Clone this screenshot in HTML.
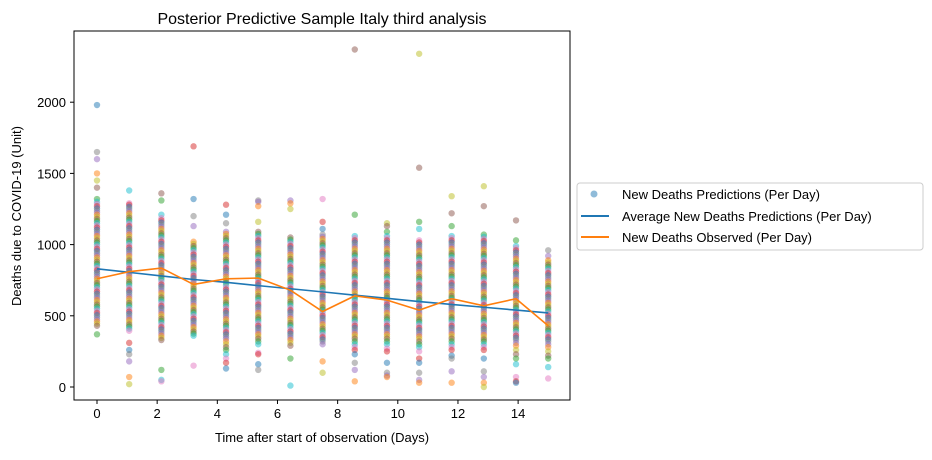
<!DOCTYPE html>
<html><head><meta charset="utf-8"><style>
body{margin:0;background:#fff;font-family:"Liberation Sans",sans-serif;}
svg text{font-family:"Liberation Sans",sans-serif;fill:#000}
</style></head><body>
<svg id="c" width="932" height="455">
<text x="322" y="24" font-size="16" text-anchor="middle">Posterior Predictive Sample Italy third analysis</text>
<g id="marks"></g>
<rect x="74" y="31" width="496" height="369" fill="none" stroke="#000" stroke-width="1"/>
<g id="axes"></g>
<text x="322" y="442" font-size="13" text-anchor="middle">Time after start of observation (Days)</text>
<text transform="translate(21,216) rotate(-90)" font-size="13" text-anchor="middle">Deaths due to COVID-19 (Unit)</text>
<g>
<rect x="577" y="183" width="346" height="67" rx="3" fill="#fff" stroke="#ccc"/>
<circle cx="594" cy="194" r="3.5" fill="#1f77b4" fill-opacity="0.5"/>
<text x="622" y="199" font-size="13">New Deaths Predictions (Per Day)</text>
<line x1="581" x2="609" y1="216" y2="216" stroke="#1f77b4" stroke-width="2"/>
<text x="622" y="221" font-size="13">Average New Deaths Predictions (Per Day)</text>
<line x1="581" x2="609" y1="237" y2="237" stroke="#ff7f0e" stroke-width="2"/>
<text x="622" y="242" font-size="13">New Deaths Observed (Per Day)</text>
</g>
</svg>
<script>
const days=[0,1.07,2.14,3.21,4.29,5.36,6.43,7.5,8.57,9.64,10.71,11.79,12.86,13.93,15];
const avgPred=[830,805,780,755,735,712,690,668,645,623,600,580,560,540,520];
const observed=[760,810,835,720,760,765,680,530,640,610,540,620,570,620,430];
const xTicks=[0,2,4,6,8,10,12,14];
const yTicks=[0,500,1000,1500,2000];
const samples=[
[1980,1650,1600,1500,1450,1400,1320,1300,1285,1270,1255,1240,1225,1210,1195,1180,1165,1150,1135,1120,1105,1090,1075,1060,1045,1030,1015,1000,985,970,955,940,925,910,895,880,865,850,835,820,805,790,775,760,745,730,715,700,685,670,655,640,625,610,595,580,565,550,535,520,505,490,475,460,445,430,370],
[1380,1290,1280,1265,1250,1235,1220,1205,1190,1175,1160,1145,1130,1115,1100,1085,1070,1055,1040,1025,1010,995,980,965,950,935,920,905,890,875,860,845,830,815,800,785,770,755,740,725,710,695,680,665,650,635,620,605,590,575,560,545,530,515,500,485,470,455,440,425,410,395,310,260,230,180,70,20],
[1360,1310,1210,1185,1170,1155,1140,1125,1110,1095,1080,1065,1050,1035,1020,1005,990,975,960,945,930,915,900,885,870,855,840,825,810,795,780,765,750,735,720,705,690,675,660,645,630,615,600,585,570,555,540,525,510,495,480,465,450,435,420,405,390,375,360,345,330,120,50,40],
[1690,1320,1200,1130,1020,1005,990,975,960,945,930,915,900,885,870,855,840,825,810,795,780,765,750,735,720,705,690,675,660,645,630,615,600,585,570,555,540,525,510,495,480,465,450,435,420,405,390,375,360,150],
[1280,1210,1150,1090,1075,1060,1045,1030,1015,1000,985,970,955,940,925,910,895,880,865,850,835,820,805,790,775,760,745,730,715,700,685,670,655,640,625,610,595,580,565,550,535,520,505,490,475,460,445,430,415,400,385,370,355,340,320,300,280,260,230,200,170,130],
[1310,1300,1270,1160,1090,1075,1060,1045,1030,1015,1000,985,970,955,940,925,910,895,880,865,850,835,820,805,790,775,760,745,730,715,700,685,670,655,640,625,610,595,580,565,550,535,520,505,490,475,460,445,430,415,400,385,370,355,340,320,300,240,230,160,120],
[1310,1290,1250,1050,1035,1020,1005,990,975,960,945,930,915,900,885,870,855,840,825,810,795,780,765,750,735,720,705,690,675,660,645,630,615,600,585,570,555,540,525,510,495,480,465,450,435,420,405,390,375,360,345,330,310,290,200,10],
[1320,1160,1110,1070,1055,1040,1025,1010,995,980,965,950,935,920,905,890,875,860,845,830,815,800,785,770,755,740,725,710,695,680,665,650,635,620,605,590,575,560,545,530,515,500,485,470,455,440,425,410,395,380,365,350,335,320,300,180,100],
[2370,1210,1060,1045,1030,1015,1000,985,970,955,940,925,910,895,880,865,850,835,820,805,790,775,760,745,730,715,700,685,670,655,640,625,610,595,580,565,550,535,520,505,490,475,460,445,430,415,400,385,370,355,340,320,300,280,260,230,170,120,40],
[1150,1130,1090,1060,1045,1030,1015,1000,985,970,955,940,925,910,895,880,865,850,835,820,805,790,775,760,745,730,715,700,685,670,655,640,625,610,595,580,565,550,535,520,505,490,475,460,445,430,415,400,385,370,355,340,320,300,270,250,170,100,80,70],
[2340,1540,1160,1110,1030,1015,1000,985,970,955,940,925,910,895,880,865,850,835,820,805,790,775,760,745,730,715,700,685,670,655,640,625,610,595,580,565,550,535,520,505,490,475,460,445,430,415,400,385,370,355,340,320,300,280,250,200,170,100,50,30],
[1340,1220,1130,1060,1045,1030,1015,1000,985,970,955,940,925,910,895,880,865,850,835,820,805,790,775,760,745,730,715,700,685,670,655,640,625,610,595,580,565,550,535,520,505,490,475,460,445,430,415,400,385,370,355,340,320,300,280,260,220,200,110,30],
[1410,1270,1070,1055,1040,1025,1010,995,980,965,950,935,920,905,890,875,860,845,830,815,800,785,770,755,740,725,710,695,680,665,650,635,620,605,590,575,560,545,530,515,500,485,470,455,440,425,410,395,380,365,350,335,320,300,280,260,200,110,70,30,0],
[1170,1030,990,975,960,945,930,915,900,885,870,855,840,825,810,795,780,765,750,735,720,705,690,675,660,645,630,615,600,585,570,555,540,525,510,495,480,465,450,435,420,405,390,375,360,345,330,310,290,260,230,200,160,70,40,30],
[960,920,890,875,860,845,830,815,800,785,770,755,740,725,710,695,680,665,650,635,620,605,590,575,560,545,530,515,500,485,470,455,440,425,410,395,380,365,350,335,320,300,280,250,220,200,140,60]
];
const colors=["#1f77b4","#ff7f0e","#2ca02c","#d62728","#9467bd","#8c564b","#e377c2","#7f7f7f","#bcbd22","#17becf"];
const X=v=>97+v*30.08, Y=v=>387-v*0.1424;
const NS="http://www.w3.org/2000/svg";
const marks=document.getElementById('marks'), axes=document.getElementById('axes');
function mk(tag,attrs,parent){const e=document.createElementNS(NS,tag);for(const k in attrs)e.setAttribute(k,attrs[k]);parent.appendChild(e);return e;}
let ci=0;
samples.forEach((col,i)=>{col.forEach(v=>{
 const c=mk('circle',{cx:X(days[i]),cy:Y(v),r:3.2,fill:colors[(ci++*7)%10],'fill-opacity':0.5},marks);
 
 
});});
const pl=mk('polyline',{points:days.map((d,i)=>X(d)+','+Y(avgPred[i])).join(' '),fill:'none',stroke:'#1f77b4','stroke-width':1.6},marks);


const ol=mk('polyline',{points:days.map((d,i)=>X(d)+','+Y(observed[i])).join(' '),fill:'none',stroke:'#ff7f0e','stroke-width':1.6},marks);


xTicks.forEach(t=>{
 const l=mk('line',{x1:X(t),x2:X(t),y1:400,y2:404,stroke:'#000'},axes);
 
 
 const tx=mk('text',{x:X(t),y:418,'font-size':13,'text-anchor':'middle'},axes);tx.textContent=t;
 
 
});
yTicks.forEach(t=>{
 const l=mk('line',{x1:70,x2:74,y1:Y(t),y2:Y(t),stroke:'#000'},axes);
 
 
 const tx=mk('text',{x:66,y:Y(t)+5,'font-size':13,'text-anchor':'end'},axes);tx.textContent=t;
 
 
});
</script>
</body></html>
